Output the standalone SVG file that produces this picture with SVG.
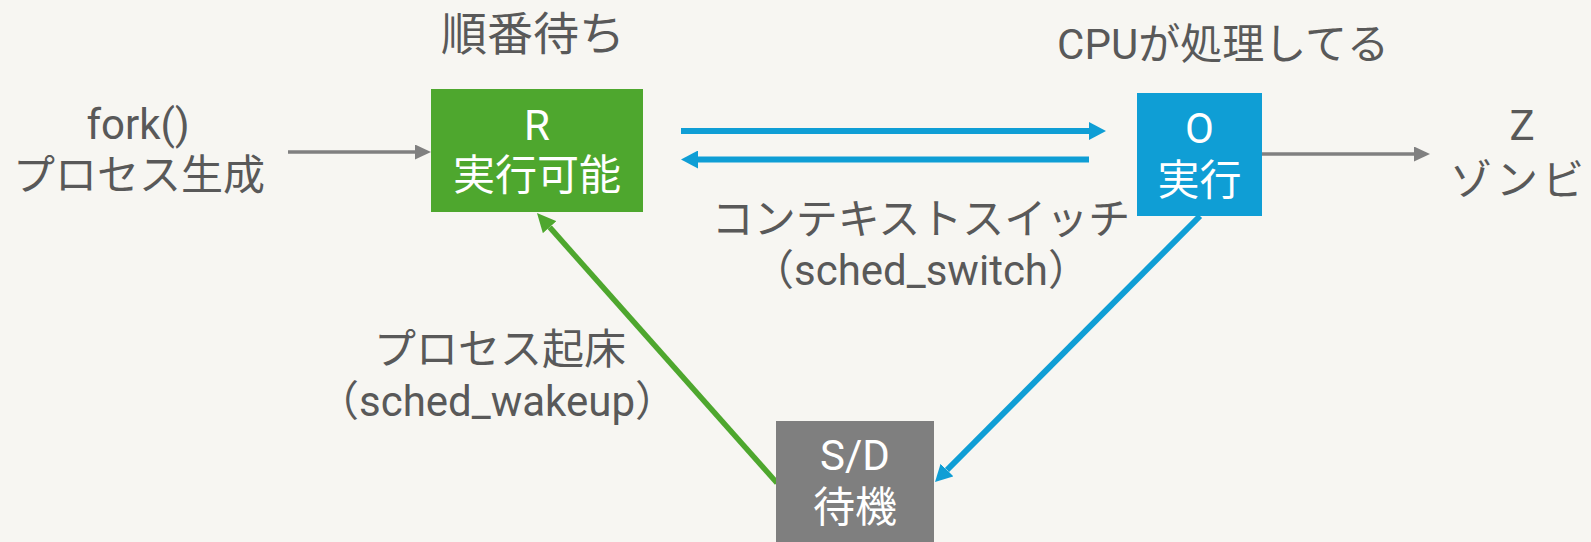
<svg xmlns="http://www.w3.org/2000/svg" width="1591" height="542" viewBox="0 0 1591 542">
  <style>
    text { font-family: Roboto, "Noto Sans CJK JP", sans-serif; font-size: 42px; text-anchor: middle; }
    .lbl { fill: #595959; }
    .nt { fill: #FFFFFF; }
    .gray { stroke: #808080; stroke-width: 3.5; fill: none; }
    .blue { stroke: #0F9ED5; stroke-width: 6; fill: none; }
    .green { stroke: #4EA72E; stroke-width: 5.5; fill: none; }
  </style>
  <defs>
    <marker id="ahGray" markerUnits="userSpaceOnUse" markerWidth="16" markerHeight="15" refX="0" refY="7.5" orient="auto">
      <path d="M0,0 L16,7.5 L0,15 z" fill="#808080"/>
    </marker>
    <marker id="ahBlue" markerUnits="userSpaceOnUse" markerWidth="17" markerHeight="18" refX="0" refY="9" orient="auto">
      <path d="M0,0 L17,9 L0,18 z" fill="#0F9ED5"/>
    </marker>
    <marker id="ahGreen" markerUnits="userSpaceOnUse" markerWidth="19" markerHeight="18" refX="0" refY="9" orient="auto">
      <path d="M0,0 L19,9 L0,18 z" fill="#4EA72E"/>
    </marker>
  </defs>
  <rect x="0" y="0" width="1591" height="542" fill="#F7F6F2"/>

  <g id="connectors">
    <line class="gray" x1="288" y1="152" x2="415" y2="152" marker-end="url(#ahGray)"/>
    <line class="gray" x1="1262" y1="154" x2="1414" y2="154" marker-end="url(#ahGray)"/>
    <line class="blue" x1="681" y1="131" x2="1089" y2="131" marker-end="url(#ahBlue)"/>
    <line class="blue" x1="1089" y1="159.5" x2="698" y2="159.5" marker-end="url(#ahBlue)"/>
    <line class="blue" x1="1200" y1="216" x2="947" y2="470" marker-end="url(#ahBlue)"/>
    <line class="green" x1="777" y1="483" x2="549.6" y2="227.2" marker-end="url(#ahGreen)"/>
  </g>

  <g id="labels">
    <text class="lbl" x="533" y="50" style="font-size:46px">順番待ち</text>
    <text class="lbl" x="1223" y="59">CPUが処理してる</text>
    <text class="lbl" x="921" y="234">コンテキストスイッチ</text>
    <text class="lbl" x="921" y="285">（sched_switch）</text>
    <text class="lbl" x="500" y="364">プロセス起床</text>
    <text class="lbl" x="497" y="416">（sched_wakeup）</text>
  </g>

  <g id="node-fork">
    <text class="lbl" x="138" y="139">fork()</text>
    <text class="lbl" x="139" y="190">プロセス生成</text>
  </g>

  <g id="node-R">
    <rect x="431" y="89" width="212" height="123" fill="#4EA72E"/>
    <text class="nt" x="537" y="140">R</text>
    <text class="nt" x="537" y="190">実行可能</text>
  </g>

  <g id="node-O">
    <rect x="1137" y="93" width="125" height="123" fill="#0F9ED5"/>
    <text class="nt" x="1199.5" y="143">O</text>
    <text class="nt" x="1199.5" y="195">実行</text>
  </g>

  <g id="node-SD">
    <rect x="776" y="421" width="158" height="123" fill="#7F7F7F"/>
    <text class="nt" x="855" y="470">S/D</text>
    <text class="nt" x="855" y="522">待機</text>
  </g>

  <g id="node-Z">
    <text class="lbl" x="1522" y="140">Z</text>
    <text class="lbl" x="1450" y="195" style="text-anchor:start; letter-spacing:4px">ゾンビ</text>
  </g>
</svg>
